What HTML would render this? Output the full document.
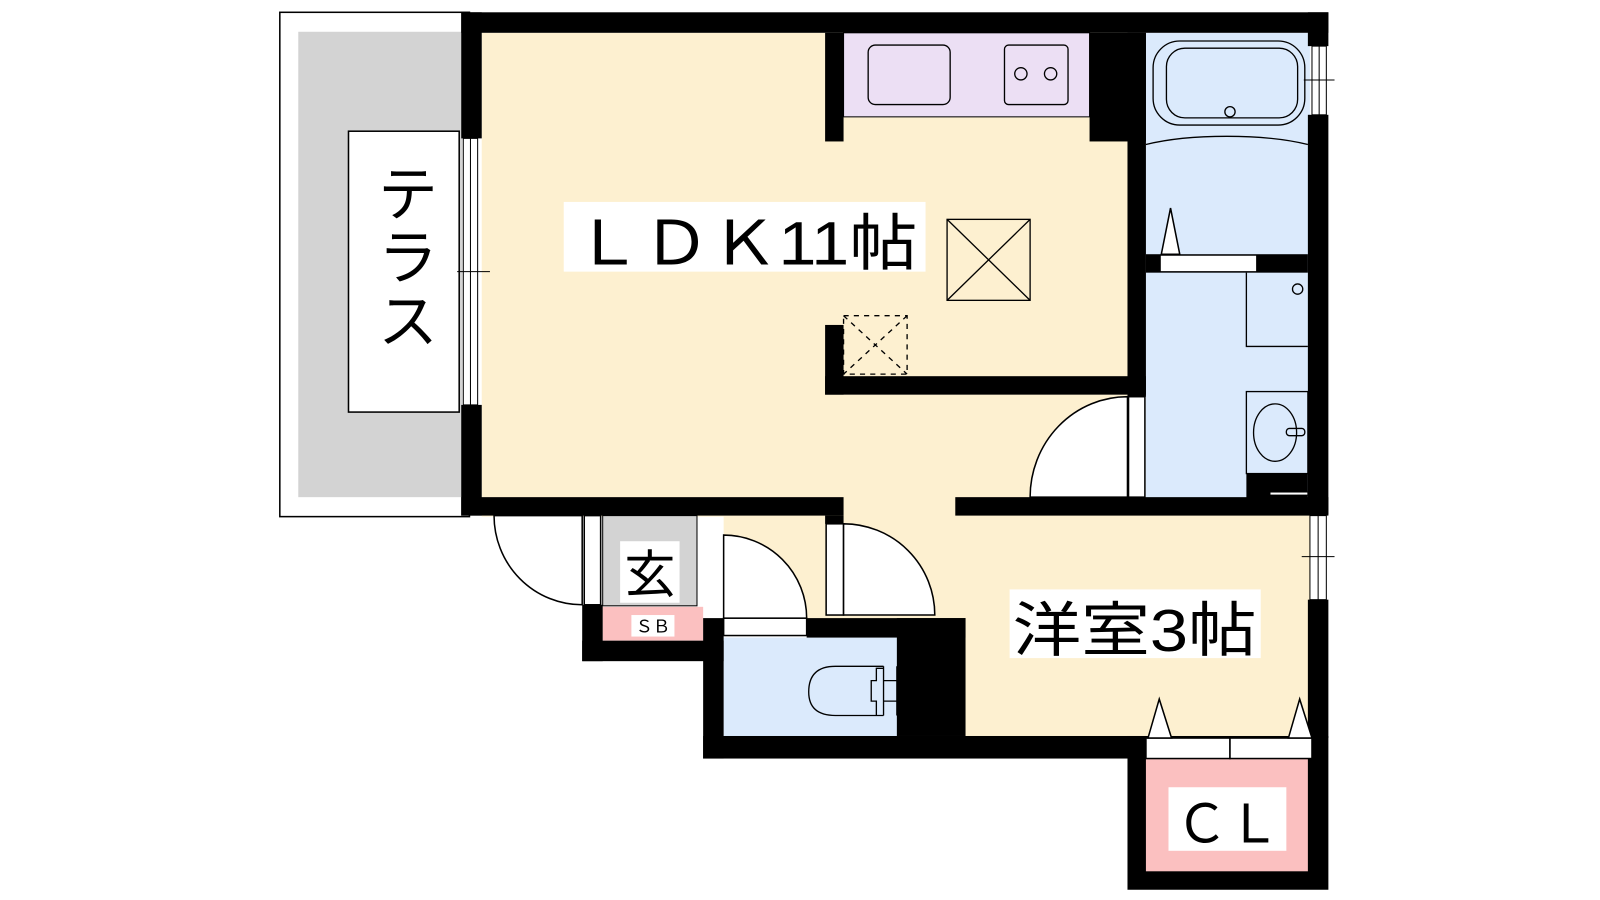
<!DOCTYPE html>
<html><head><meta charset="utf-8"><style>
html,body{margin:0;padding:0;background:#fff;width:1600px;height:900px;overflow:hidden}
svg{display:block}
text{font-family:"Liberation Sans","Noto Sans CJK JP",sans-serif;fill:#000}
</style></head><body>
<svg width="1600" height="900" viewBox="0 0 1561 878" preserveAspectRatio="none">
<rect x="273" y="12" width="185" height="492" fill="#fff" stroke="#000" stroke-width="1.5"/>
<rect x="291" y="31" width="160" height="454" fill="#d3d3d3"/>
<rect x="340" y="128" width="108" height="274" fill="#fff" stroke="#000" stroke-width="1.5"/>
<text x="398" y="210" font-size="58" text-anchor="middle">テ</text>
<text x="398" y="272" font-size="58" text-anchor="middle">ラ</text>
<text x="398" y="334" font-size="58" text-anchor="middle">ス</text>
<rect x="470" y="32" width="630" height="472" fill="#fdf0d0"/>
<rect x="706" y="485" width="236" height="120" fill="#fdf0d0"/>
<rect x="932" y="495" width="346" height="227" fill="#fdf0d0"/>
<rect x="823" y="32" width="240" height="82" fill="#ecdff4" stroke="#000" stroke-width="1"/>
<rect x="1118" y="32" width="160" height="455" fill="#dbeafc"/>
<rect x="706" y="622" width="170" height="97" fill="#dbeafc"/>
<rect x="588" y="503" width="92" height="88" fill="#d3d3d3" stroke="#000" stroke-width="1"/>
<rect x="588" y="592" width="98" height="33" fill="#fbc0c0"/>
<g fill="#000">
<rect x="450" y="12" width="846" height="20"/>
<rect x="450" y="12" width="20" height="123"/>
<rect x="450" y="395" width="20" height="108"/>
<rect x="1276" y="12" width="20" height="33"/>
<rect x="1276" y="112" width="20" height="390"/>
<rect x="1276" y="585" width="20" height="135"/>
<rect x="450" y="485" width="373" height="18"/>
<rect x="932" y="485" width="364" height="18"/>
<rect x="805" y="32" width="18" height="106"/>
<rect x="1063" y="32" width="55" height="106"/>
<rect x="1100" y="32" width="18" height="355"/>
<rect x="805" y="317" width="18" height="68"/>
<rect x="805" y="367" width="313" height="18"/>
<rect x="1118" y="248" width="158" height="18"/>
<rect x="1216" y="462" width="60" height="25"/>
<rect x="568" y="590" width="20" height="55"/>
<rect x="568" y="625" width="138" height="20"/>
<rect x="686" y="603" width="20" height="137"/>
<rect x="686" y="718" width="432" height="22"/>
<rect x="875" y="603" width="67" height="115"/>
<rect x="787" y="603" width="155" height="19"/>
<rect x="1100" y="718" width="196" height="150"/>
<rect x="805" y="503" width="18" height="8"/>
</g>
<rect x="1118" y="740" width="158" height="110" fill="#fbc0c0"/>
<g fill="#fff" stroke="#000" stroke-width="1">
<rect x="452" y="135" width="14" height="260"/>
<rect x="1280" y="45" width="14" height="67"/>
<rect x="1278" y="503" width="16" height="82"/>
<rect x="1132" y="249" width="94" height="16"/>
<rect x="1239" y="480" width="37" height="3"/>
</g>
<g stroke="#000" stroke-width="1"><line x1="459" y1="135" x2="459" y2="395"/><line x1="446" y1="265" x2="478" y2="265"/>
<line x1="1287" y1="45" x2="1287" y2="112"/><line x1="1272" y1="78" x2="1302" y2="78"/>
<line x1="1286" y1="503" x2="1286" y2="585"/><line x1="1270" y1="543" x2="1302" y2="543"/></g>
<g fill="none" stroke="#000" stroke-width="1.3">
<rect x="847" y="44" width="80" height="58" rx="7"/>
<rect x="980" y="44" width="62" height="58" rx="4"/>
<circle cx="996" cy="72" r="6"/><circle cx="1025" cy="72" r="6"/>
<rect x="924" y="214" width="81" height="79"/>
<line x1="924" y1="214" x2="1005" y2="293"/><line x1="1005" y1="214" x2="924" y2="293"/>
<g stroke-dasharray="5,5"><rect x="823" y="308" width="62" height="57"/><line x1="823" y1="308" x2="885" y2="365"/><line x1="885" y1="308" x2="823" y2="365"/></g>
<rect x="1125" y="40" width="148" height="82" rx="26"/>
<rect x="1138" y="47" width="128" height="68" rx="18"/>
<circle cx="1200" cy="109" r="5"/>
<path d="M1118 141 Q1150 133 1197 133 Q1244 133 1276 141"/>
<path d="M1216 266 V338 H1276"/>
<circle cx="1266" cy="282" r="5"/>
<rect x="1216" y="382" width="60" height="80"/>
<ellipse cx="1244" cy="422" rx="21" ry="28"/>
<rect x="1255" y="418" width="18" height="7" rx="3"/>
<path d="M862 650 H815 Q789 650 789 675 Q789 698 815 698 H862"/>
<path d="M862 650 V698 M875 650 V698 M862 664 H875 M862 684 H875 M862 652 H855 V664 H850 V684 H855 V698"/>
</g>
<g fill="#fff" stroke="#000" stroke-width="1.5">
<rect x="570" y="503" width="16" height="87"/>
<path d="M568 503 H482 A86 87 0 0 0 568 590 Z"/>
<rect x="706" y="603" width="81" height="17"/>
<path d="M706 603 V522 A81 81 0 0 1 787 603 Z"/>
<rect x="806" y="511" width="17" height="89"/>
<path d="M823 600 V511 A89 89 0 0 1 912 600 Z"/>
<rect x="1101" y="387" width="16" height="98"/>
<path d="M1100 485 V387 A95 98 0 0 0 1005 485 Z"/>
<rect x="1118" y="720" width="82" height="20"/><rect x="1200" y="720" width="80" height="20"/>
<path d="M1133 248 L1142 203 L1151 248 Z"/>
<path d="M1120 720 L1131 682 L1143 720 Z"/>
<path d="M1257 720 L1268 682 L1280 720 Z"/>
</g>
<rect x="550" y="197" width="353" height="68" fill="#fff"/>
<text x="560" y="258" font-size="60" textLength="335" lengthAdjust="spacingAndGlyphs">ＬＤＫ11帖</text>
<rect x="985" y="575" width="245" height="67" fill="#fff"/>
<text x="988" y="635" font-size="58" textLength="238" lengthAdjust="spacingAndGlyphs">洋室3帖</text>
<rect x="1140" y="768" width="115" height="62" fill="#fff"/>
<text x="1147" y="822" font-size="52" textLength="102" lengthAdjust="spacingAndGlyphs">ＣＬ</text>
<rect x="605" y="528" width="58" height="60" fill="#fff"/>
<text x="634" y="578" font-size="50" text-anchor="middle">玄</text>
<rect x="616" y="600" width="42" height="21" fill="#fff"/>
<text x="637" y="617" font-size="17" text-anchor="middle">ＳＢ</text>
</svg>
</body></html>
